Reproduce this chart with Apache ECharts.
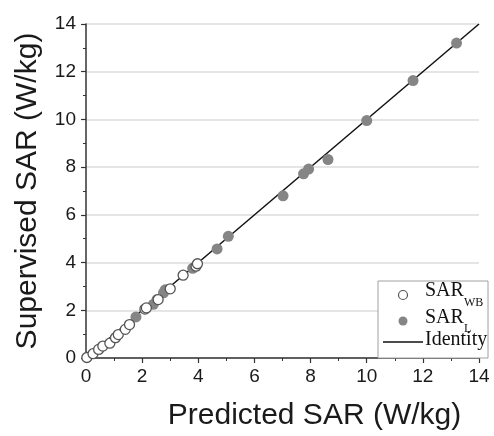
<!DOCTYPE html>
<html>
<head>
<meta charset="utf-8">
<script src="https://cdn.jsdelivr.net/npm/echarts@6/dist/echarts.min.js"></script>
<style>html,body{margin:0;padding:0;background:#fff;}#c{width:494px;height:436px;}</style>
</head>
<body>
<div id="c"></div>
<script>
// Data
var wbPredicted = [0.03, 0.25, 0.45, 0.6, 0.85, 1.05, 1.15, 1.4, 1.55, 2.1, 2.15, 2.57, 3.0, 3.46, 3.92, 3.97];
var wbSupervised = [0.02, 0.18, 0.36, 0.5, 0.62, 0.85, 0.98, 1.2, 1.4, 2.05, 2.1, 2.45, 2.9, 3.47, 3.85, 3.95];
var lPredicted = [1.78, 2.4, 2.53, 2.76, 2.82, 3.8, 4.67, 5.07, 7.02, 7.75, 7.93, 8.62, 10.0, 11.65, 13.2];
var lSupervised = [1.72, 2.25, 2.45, 2.73, 2.86, 3.76, 4.57, 5.1, 6.8, 7.72, 7.92, 8.32, 9.95, 11.63, 13.2];
var identityX = [0, 14];
var identityY = [0, 14];
var xTitle = 'Predicted SAR (W/kg)';
var yTitle = 'Supervised SAR (W/kg)';

function pairs(xs, ys) { return xs.map(function (x, i) { return [x, ys[i]]; }); }

var chart = echarts.init(document.getElementById('c'), null, {renderer: 'canvas'});
var axisCommon = {
  type: 'value', min: 0, max: 14, interval: 2,
  axisLine: {show: true, onZero: false, lineStyle: {color: '#333', width: 1.5}},
  axisTick: {show: true, inside: false, length: 5, lineStyle: {color: '#333', width: 1.2}},
  minorTick: {show: true, splitNumber: 2, length: 3, lineStyle: {color: '#333', width: 1}},
  axisLabel: {fontFamily: 'Liberation Sans, Arial, sans-serif', fontSize: 19, color: '#1a1a1a'},
  nameLocation: 'middle'
};
chart.setOption({
  animation: false,
  grid: {left: 86, right: 15, top: 24, bottom: 69, containLabel: false},
  xAxis: Object.assign({}, axisCommon, {
    name: xTitle, nameGap: 43,
    axisLabel: Object.assign({}, axisCommon.axisLabel, {margin: 9}),
    nameTextStyle: {fontFamily: 'Liberation Sans, Arial, sans-serif', fontSize: 30, color: '#1a1a1a', padding: [0, 0, 0, 64]},
    splitLine: {show: false}
  }),
  yAxis: Object.assign({}, axisCommon, {
    name: yTitle, nameGap: 43,
    axisLabel: Object.assign({}, axisCommon.axisLabel, {margin: 10}),
    nameTextStyle: {fontFamily: 'Liberation Sans, Arial, sans-serif', fontSize: 30, color: '#1a1a1a'},
    splitLine: {show: true, lineStyle: {color: '#dcdcdc', width: 1.5}}
  }),
  series: [
    {name: 'Identity', type: 'line', data: pairs(identityX, identityY), symbol: 'none',
     lineStyle: {color: '#111', width: 1.5}, z: 2},
    {name: 'SAR_L', type: 'scatter', data: pairs(lPredicted, lSupervised), symbolSize: 11,
     itemStyle: {color: '#858585', opacity: 1}, z: 3},
    {name: 'SAR_WB', type: 'scatter', data: pairs(wbPredicted, wbSupervised), symbolSize: 10,
     itemStyle: {color: '#ffffff', borderColor: '#555', borderWidth: 1.3, opacity: 1}, z: 4}
  ],
  graphic: [
    {type: 'rect', shape: {x: 378, y: 281, width: 110, height: 77}, style: {fill: '#fff', stroke: '#a0a0a0', lineWidth: 1}, z: 10},
    {type: 'circle', shape: {cx: 403, cy: 295, r: 4.5}, style: {fill: '#fff', stroke: '#555', lineWidth: 1.2}, z: 11},
    {type: 'text', x: 425, y: 291, style: {text: 'SAR', fontFamily: 'Liberation Serif, Times New Roman, serif', fontSize: 20, fill: '#111', verticalAlign: 'middle'}, z: 11},
    {type: 'text', x: 464, y: 303, style: {text: 'WB', fontFamily: 'Liberation Serif, Times New Roman, serif', fontSize: 12, fill: '#111', verticalAlign: 'middle'}, z: 11},
    {type: 'circle', shape: {cx: 403, cy: 321, r: 4.5}, style: {fill: '#858585'}, z: 11},
    {type: 'text', x: 425, y: 318, style: {text: 'SAR', fontFamily: 'Liberation Serif, Times New Roman, serif', fontSize: 20, fill: '#111', verticalAlign: 'middle'}, z: 11},
    {type: 'text', x: 464, y: 329, style: {text: 'L', fontFamily: 'Liberation Serif, Times New Roman, serif', fontSize: 12, fill: '#111', verticalAlign: 'middle'}, z: 11},
    {type: 'line', shape: {x1: 383, y1: 342, x2: 423, y2: 342}, style: {stroke: '#111', lineWidth: 1.5}, z: 11},
    {type: 'text', x: 425, y: 340, style: {text: 'Identity', fontFamily: 'Liberation Serif, Times New Roman, serif', fontSize: 20, fill: '#111', verticalAlign: 'middle'}, z: 11}
  ]
});
</script>
</body>
</html>
